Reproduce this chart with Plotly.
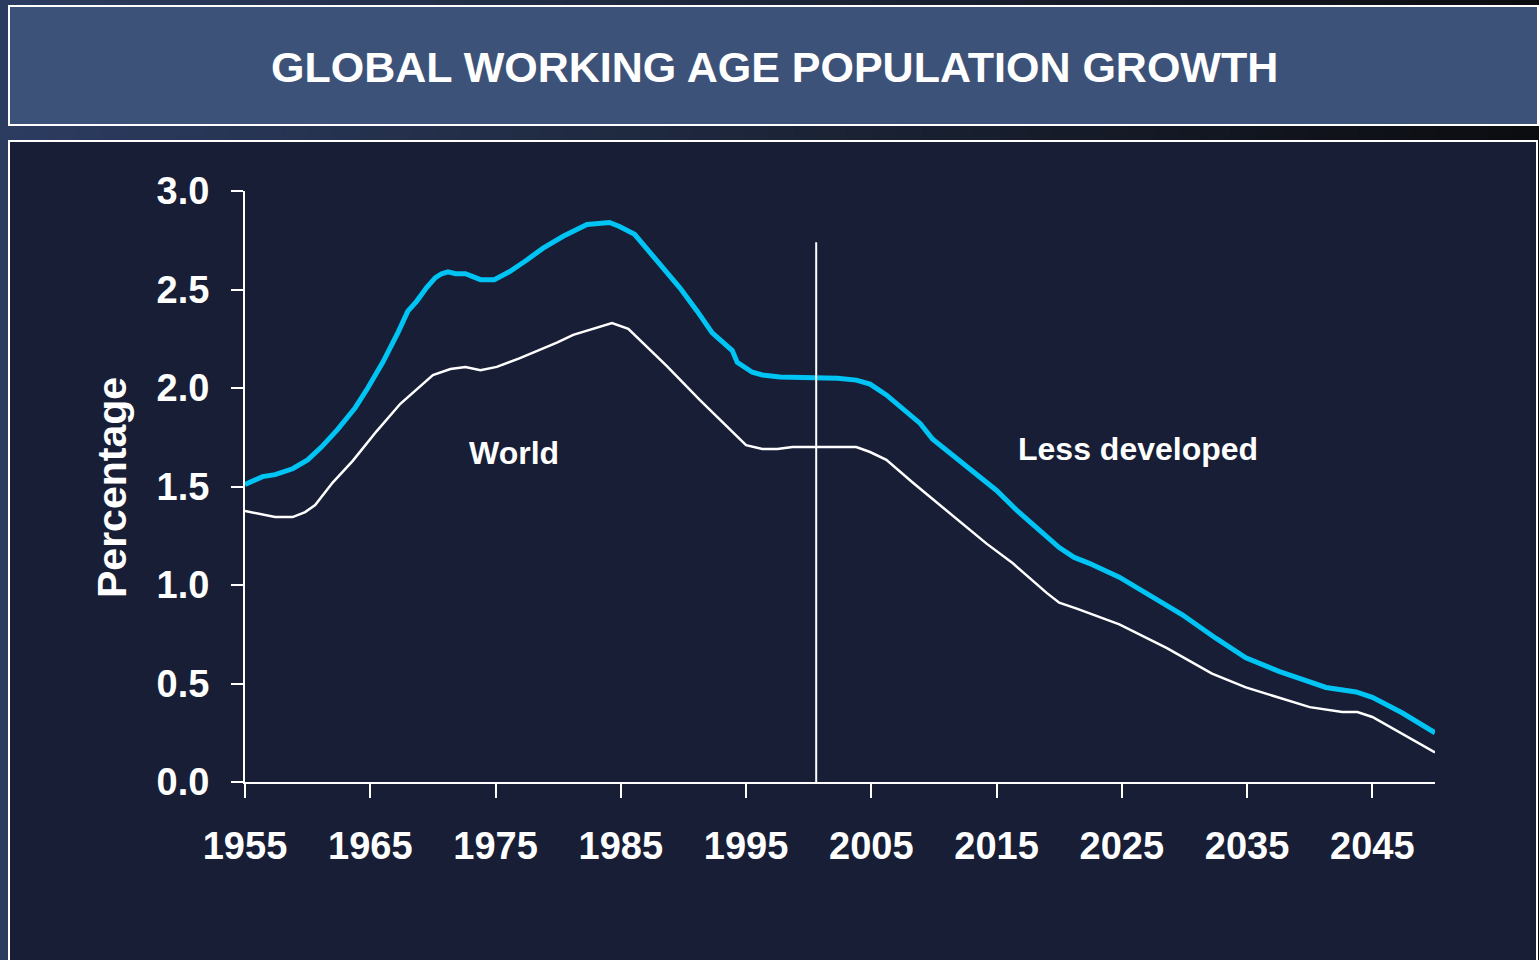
import plotly.graph_objects as go

# Working-age population growth, % per year
ld_years = [1955, 1956.4, 1957.4, 1958.8, 1960.0, 1961.1, 1962.4, 1963.8, 1964.8, 1966.0,
            1967.2, 1968.0, 1968.7, 1969.5, 1970.2, 1970.7, 1971.2, 1971.8, 1972.6, 1973.8,
            1974.9, 1976.1, 1977.5, 1978.8, 1980.4, 1982.3, 1984.1, 1984.9, 1986.1, 1987.6,
            1989.7, 1991.1, 1992.3, 1993.9, 1994.3, 1995.5, 1996.3, 1997.7, 2000.6, 2002.3,
            2003.8, 2004.9, 2006.2, 2007.8, 2008.9, 2009.9, 2012.3, 2015.0, 2016.6, 2018.7,
            2020.0, 2021.2, 2022.4, 2024.8, 2027.4, 2029.8, 2032.5, 2034.9, 2037.6, 2041.3,
            2043.7, 2045.0, 2047.4, 2050.0]
ld_vals = [1.51, 1.55, 1.56, 1.59, 1.635, 1.70, 1.79, 1.90, 2.00, 2.13,
           2.28, 2.39, 2.44, 2.51, 2.56, 2.58, 2.59, 2.58, 2.58, 2.55,
           2.55, 2.59, 2.65, 2.71, 2.77, 2.83, 2.84, 2.82, 2.78, 2.67,
           2.51, 2.39, 2.28, 2.19, 2.13, 2.08, 2.066, 2.056, 2.056, 2.05,
           2.04, 2.02, 1.965, 1.88, 1.82, 1.74, 1.62, 1.48, 1.38, 1.26,
           1.19, 1.14, 1.11, 1.04, 0.94, 0.85, 0.73, 0.63, 0.56, 0.48,
           0.457, 0.43, 0.35, 0.25]

world_years = [1955, 1957.4, 1958.8, 1959.8, 1960.6, 1962.0, 1963.6, 1965.5, 1967.4, 1969.0,
               1970.0, 1971.4, 1972.6, 1973.8, 1975.1, 1976.9, 1979.9, 1981.2, 1982.8, 1984.3,
               1985.6, 1988.7, 1991.3, 1994.0, 1995.0, 1996.3, 1997.5, 1998.7, 2003.8, 2004.9,
               2006.2, 2008.3, 2011.0, 2014.2, 2016.3, 2019.0, 2020.0, 2021.4, 2024.8, 2028.6,
               2032.2, 2034.9, 2040.0, 2042.6, 2043.8, 2045.0, 2050.0]
world_vals = [1.376, 1.345, 1.345, 1.37, 1.406, 1.52, 1.63, 1.78, 1.92, 2.01,
              2.066, 2.096, 2.107, 2.09, 2.107, 2.15, 2.23, 2.27, 2.30, 2.33,
              2.30, 2.11, 1.94, 1.77, 1.71, 1.69, 1.69, 1.70, 1.70, 1.675,
              1.635, 1.52, 1.38, 1.21, 1.11, 0.96, 0.91, 0.88, 0.80, 0.68,
              0.55, 0.48, 0.38, 0.355, 0.355, 0.33, 0.15]

x_ticks = [1955, 1965, 1975, 1985, 1995, 2005, 2015, 2025, 2035, 2045]
y_ticks = [0.0, 0.5, 1.0, 1.5, 2.0, 2.5, 3.0]

# estimates vs. projections divider
divider_year = 2000.6
divider_top = 2.74

W, H = 1539, 960
FONT = "Liberation Sans, Arial, sans-serif"
PANEL = "#171e36"


def px(x):
    return x / W


def py(y):
    return 1 - y / H


fig = go.Figure()

fig.add_trace(go.Scatter(x=world_years, y=world_vals, mode="lines", name="World",
                         line=dict(color="#ffffff", width=2.5), hoverinfo="x+y"))
fig.add_trace(go.Scatter(x=ld_years, y=ld_vals, mode="lines", name="Less developed",
                         line=dict(color="#00c4f4", width=5), hoverinfo="x+y"))

shapes = []
# dark slate background gradient running left to right
n = 60
c0 = (44, 60, 96)
c1 = (12, 13, 17)
for i in range(n):
    t = i / (n - 1)
    r, g, b = (round(c0[k] + (c1[k] - c0[k]) * t) for k in range(3))
    shapes.append(dict(type="rect", xref="paper", yref="paper", layer="below",
                       x0=i / n, x1=(i + 1) / n + 0.002, y0=0, y1=1,
                       fillcolor=f"rgb({r},{g},{b})", line=dict(width=0)))
# title banner
shapes.append(dict(type="rect", xref="paper", yref="paper", layer="below",
                   x0=px(9), x1=px(1538), y0=py(125), y1=py(6),
                   fillcolor="#3d5279", line=dict(color="#ffffff", width=2)))
# chart panel
shapes.append(dict(type="rect", xref="paper", yref="paper", layer="below",
                   x0=px(9), x1=px(1537), y0=py(990), y1=py(141),
                   fillcolor=PANEL, line=dict(color="#ffffff", width=2)))
# divider line
shapes.append(dict(type="line", xref="x", yref="y", layer="above",
                   x0=divider_year, x1=divider_year, y0=0, y1=divider_top,
                   line=dict(color="#ffffff", width=2)))

annotations = [
    dict(text="<b>GLOBAL WORKING AGE POPULATION GROWTH</b>", xref="paper", yref="paper",
         x=px(774), y=py(67), showarrow=False, xanchor="center", yanchor="middle",
         font=dict(family=FONT, size=43, color="#ffffff")),
    dict(text="<b>Percentage</b>", xref="paper", yref="paper", x=px(112), y=py(488),
         showarrow=False, textangle=-90, xanchor="center", yanchor="middle",
         font=dict(family=FONT, size=41, color="#ffffff")),
    dict(text="<b>World</b>", xref="x", yref="y", x=1976.5, y=1.67, showarrow=False,
         xanchor="center", yanchor="middle", font=dict(family=FONT, size=32, color="#ffffff")),
    dict(text="<b>Less developed</b>", xref="x", yref="y", x=2026.3, y=1.69, showarrow=False,
         xanchor="center", yanchor="middle", font=dict(family=FONT, size=32, color="#ffffff")),
]

fig.update_layout(
    width=W, height=H,
    margin=dict(l=0, r=0, t=0, b=0, pad=0, autoexpand=False),
    paper_bgcolor=PANEL,
    plot_bgcolor="rgba(0,0,0,0)",
    showlegend=False,
    shapes=shapes,
    annotations=annotations,
    font=dict(family=FONT, color="#ffffff"),
    xaxis=dict(domain=[px(245), px(1435)], range=[1955, 2050], showgrid=False, zeroline=False,
               showline=True, linecolor="#ffffff", linewidth=2, automargin=False,
               tickmode="array", tickvals=x_ticks, ticktext=[str(v) for v in x_ticks],
               ticks="outside", ticklen=14, tickwidth=2, tickcolor="#ffffff",
               ticklabelstandoff=15,
               tickfont=dict(family=FONT, size=38, color="#ffffff", weight="bold")),
    yaxis=dict(domain=[py(782), py(191)], range=[0, 3], showgrid=False, zeroline=False,
               showline=True, linecolor="#ffffff", linewidth=2, automargin=False,
               tickmode="array", tickvals=y_ticks, ticktext=[f"{v:.1f}" for v in y_ticks],
               ticks="outside", ticklen=12, tickwidth=2, tickcolor="#ffffff",
               ticklabelstandoff=14,
               tickfont=dict(family=FONT, size=38, color="#ffffff", weight="bold")),
)

fig.write_html("out.html")
